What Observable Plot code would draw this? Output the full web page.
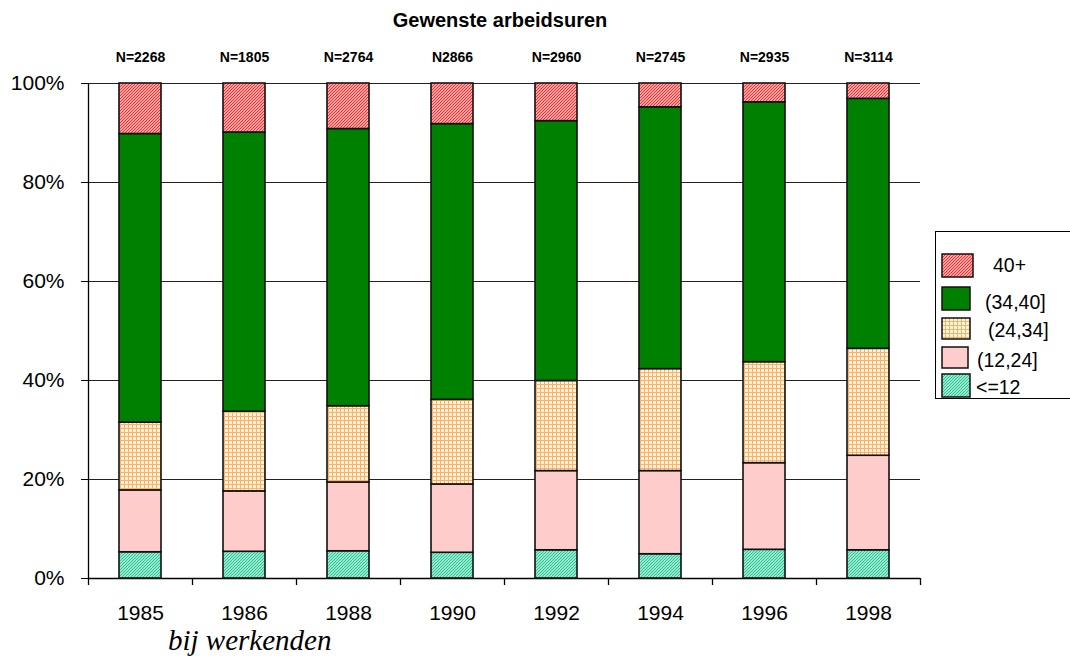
<!DOCTYPE html>
<html><head><meta charset="utf-8">
<script src="https://cdn.jsdelivr.net/npm/d3@7"></script>
<script src="https://cdn.jsdelivr.net/npm/@observablehq/plot@0.6"></script>
<style>
body{margin:0;background:#fff;font-family:"Liberation Sans",Arial,sans-serif;}
#wrap{position:relative;width:1070px;height:659px;overflow:hidden;background:#fff;}
#title{position:absolute;left:0;width:1000px;top:9px;text-align:center;font-weight:bold;font-size:20px;line-height:1.1;color:#000;}
#caption{position:absolute;left:168px;top:626px;font-family:"Liberation Serif","Times New Roman",serif;font-style:italic;font-size:29px;line-height:1;color:#000;white-space:nowrap;}
#legend{position:absolute;left:935px;top:231px;width:150px;height:166px;border:1px solid #000;border-right:none;background:#fff;}
.li{position:absolute;font-size:19.5px;line-height:1;white-space:nowrap;}
.sw{position:absolute;}
</style></head><body>
<svg width="0" height="0" style="position:absolute">
<defs>
<pattern id="p40" width="3" height="3" patternUnits="userSpaceOnUse">
<rect width="3" height="3" fill="#fff"/>
<path d="M-1,1 L1,-1 M0,3 L3,0 M2,4 L4,2" stroke="#ff3030" stroke-width="1.3"/>
</pattern>
<pattern id="p24" width="4" height="4" patternUnits="userSpaceOnUse">
<rect width="4" height="4" fill="#fff4e0"/>
<path d="M0.5,0 V4 M0,0.5 H4" stroke="#ffb060" stroke-width="1"/>
</pattern>
<pattern id="p12" width="3" height="3" patternUnits="userSpaceOnUse">
<rect width="3" height="3" fill="#fff"/>
<path d="M-1,1 L1,-1 M0,3 L3,0 M2,4 L4,2" stroke="#22c995" stroke-width="1.3"/>
</pattern>
</defs>
</svg>
<div id="wrap">
<div id="title">Gewenste arbeidsuren</div>
<div id="caption">bij werkenden</div>
<div id="legend"></div>
</div>
<script>
// ---- data ----
const years = ["1985","1986","1988","1990","1992","1994","1996","1998"];
const nLabels = ["N=2268","N=1805","N=2764","N2866","N=2960","N=2745","N=2935","N=3114"];
const categories = ["<=12","(12,24]","(24,34]","(34,40]","40+"];
const upTo12   = [5.3, 5.4, 5.5, 5.2, 5.7, 4.9, 5.8, 5.7];
const h12to24  = [12.5, 12.2, 13.9, 13.8, 16.0, 16.8, 17.5, 19.1];
const h24to34  = [13.7, 16.1, 15.4, 17.1, 18.2, 20.6, 20.4, 21.6];
const h34to40  = [58.3, 56.4, 56.0, 55.7, 52.5, 52.9, 52.5, 50.5];
const over40   = [10.2, 9.9, 9.2, 8.2, 7.6, 4.8, 3.8, 3.1];
const yTicks = [0, 20, 40, 60, 80, 100];

// ---- styles ----
const fills = {"<=12":"url(#p12)","(12,24]":"#ffcccc","(24,34]":"url(#p24)","(34,40]":"#008000","40+":"url(#p40)"};
const series = [upTo12, h12to24, h24to34, h34to40, over40];
const rows = [];
categories.forEach((c, ci) => years.forEach((y, yi) => rows.push({year: y, cat: c, value: series[ci][yi]})));
const nRows = years.map((y, i) => ({year: y, label: nLabels[i]}));

const W = 1070, H = 659, ML = 88, MR = 150, MT = 83, MB = 81;
const step = (W - ML - MR) / years.length;

const chart = Plot.plot({
  width: W, height: H,
  marginLeft: ML, marginRight: MR, marginTop: MT, marginBottom: MB,
  style: {fontFamily: "'Liberation Sans', Arial, sans-serif", background: "transparent", color: "#000"},
  x: {domain: years, paddingInner: 0.6, paddingOuter: 0.3, label: null},
  y: {domain: [0, 100], label: null},
  color: {type: "identity"},
  marks: [
    Plot.ruleY(yTicks.slice(1), {stroke: "#222", strokeWidth: 1}),
    Plot.ruleY([0], {stroke: "#000", strokeWidth: 1.3}),
    Plot.ruleX([years[0]], {x: d => d, y1: 0, y2: 100, dx: -step / 2, stroke: "#000", strokeWidth: 1.3}),
    Plot.ruleX(years, {x: d => d, y1: 0, y2: 0, dx: -step / 2, stroke: "#000", strokeWidth: 1.3, insetBottom: -7}),
    Plot.ruleX([years[years.length - 1]], {x: d => d, y1: 0, y2: 0, dx: step / 2, stroke: "#000", strokeWidth: 1.3, insetBottom: -7}),
    Plot.barY(rows, Plot.stackY({x: "year", y: "value", z: "cat", fill: d => fills[d.cat], stroke: "#111", strokeWidth: 1.6, inset: 0})),
    Plot.text(nRows, {x: "year", y: () => 100, text: "label", dy: -26, fontSize: 14, fontWeight: "bold", fill: "#000"}),
    Plot.axisY({ticks: yTicks, tickFormat: d => d + "%", tickSize: 7, tickPadding: 17, fontSize: 21, stroke: "#000"}),
    Plot.axisX({tickSize: 0, tickPadding: 27, fontSize: 21})
  ]
});
chart.style.position = "absolute";
chart.style.left = "0px";
chart.style.top = "0px";
document.getElementById("wrap").prepend(chart);

// ---- legend ----
const legendLayout = [
  {cat: "40+", sx: 6, sy: 22, sw: 31, sh: 23, tx: 57, ty: 265},
  {cat: "(34,40]", sx: 6, sy: 55, sw: 28, sh: 23, tx: 49, ty: 302},
  {cat: "(24,34]", sx: 6, sy: 86, sw: 28, sh: 21, tx: 52, ty: 330},
  {cat: "(12,24]", sx: 6, sy: 115, sw: 26, sh: 21, tx: 41, ty: 360},
  {cat: "<=12", sx: 6, sy: 142, sw: 28, sh: 23, tx: 40, ty: 387}
];
const leg = document.getElementById("legend");
legendLayout.forEach(l => {
  const s = document.createElementNS("http://www.w3.org/2000/svg", "svg");
  s.setAttribute("class", "sw");
  s.setAttribute("width", l.sw + 2); s.setAttribute("height", l.sh + 2);
  s.style.left = (l.sx - 1) + "px"; s.style.top = (l.sy - 1) + "px";
  s.innerHTML = `<rect x="1" y="1" width="${l.sw}" height="${l.sh}" fill="${fills[l.cat]}" stroke="#111" stroke-width="1.5"/>`;
  leg.appendChild(s);
  const t = document.createElement("div");
  t.className = "li";
  t.textContent = l.cat;
  t.style.left = l.tx + "px";
  t.style.top = (l.ty - 231 - 10) + "px";
  leg.appendChild(t);
});
</script>
</body></html>
